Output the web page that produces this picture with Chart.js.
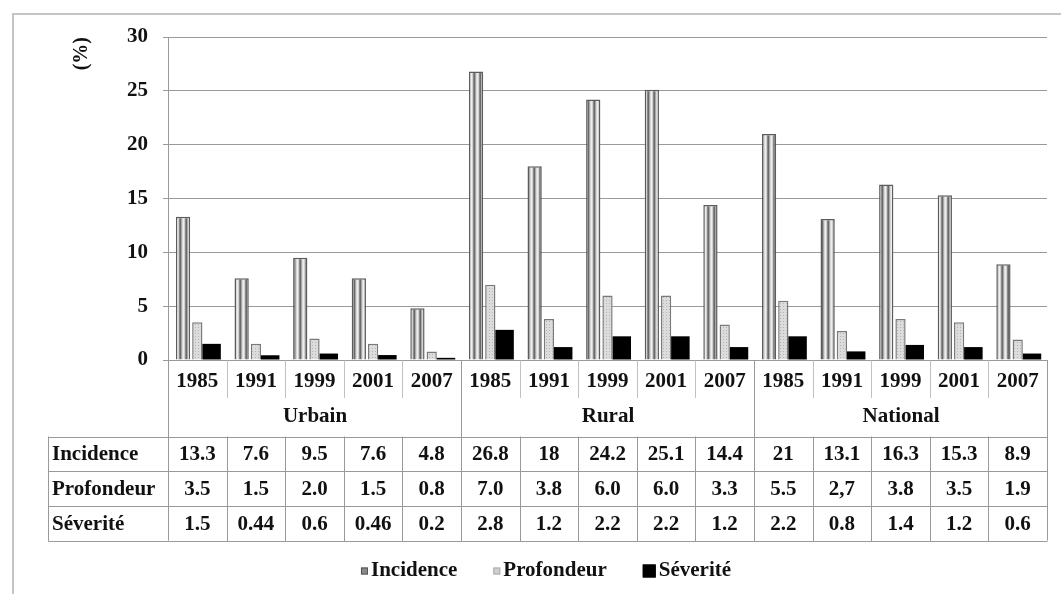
<!DOCTYPE html>
<html>
<head>
<meta charset="utf-8">
<script src="https://cdn.jsdelivr.net/npm/chart.js@4.4.1/dist/chart.umd.min.js"></script>
<style>
  html, body { margin: 0; padding: 0; background: #fff; overflow: hidden; }
  #frame { position: absolute; left: 12px; top: 13px; width: 1100px; height: 700px; border: 2px solid #c4c4c4; box-sizing: border-box; }
  #wrap { position: absolute; left: 0; top: 0; width: 1061px; height: 594px; }
</style>
</head>
<body>
<div id="frame"></div>
<div id="wrap"><canvas id="c" width="1061" height="594"></canvas></div>
<script>
// ---- data ----
const years = ["1985", "1991", "1999", "2001", "2007", "1985", "1991", "1999", "2001", "2007", "1985", "1991", "1999", "2001", "2007"];
const groups = ["Urbain", "Rural", "National"];
const seriesNames = ["Incidence", "Profondeur", "Séverité"];
const incidenceText = ["13.3", "7.6", "9.5", "7.6", "4.8", "26.8", "18", "24.2", "25.1", "14.4", "21", "13.1", "16.3", "15.3", "8.9"];
const profondeurText = ["3.5", "1.5", "2.0", "1.5", "0.8", "7.0", "3.8", "6.0", "6.0", "3.3", "5.5", "2,7", "3.8", "3.5", "1.9"];
const severiteText = ["1.5", "0.44", "0.6", "0.46", "0.2", "2.8", "1.2", "2.2", "2.2", "1.2", "2.2", "0.8", "1.4", "1.2", "0.6"];
const yTicks = [0, 5, 10, 15, 20, 25, 30];

const toNum = s => parseFloat(s.replace(',', '.'));
const incidence = incidenceText.map(toNum);
const profondeur = profondeurText.map(toNum);
const severite = severiteText.map(toNum);
const tableRows = [incidenceText, profondeurText, severiteText];

const FONT = "'Liberation Serif', 'Times New Roman', serif";
const FS = 21;
const LINE = '#9a9a9a';

function stripePattern(cols) {
  const c = document.createElement('canvas');
  c.width = cols.length; c.height = 4;
  const g = c.getContext('2d');
  cols.forEach((col, i) => { g.fillStyle = col; g.fillRect(i, 0, 1, 4); });
  return g.createPattern(c, 'repeat');
}
function dotPattern() {
  const c = document.createElement('canvas');
  c.width = 3; c.height = 3;
  const g = c.getContext('2d');
  g.fillStyle = '#dcdcdc'; g.fillRect(0, 0, 3, 3);
  g.fillStyle = '#b4b4b4'; g.fillRect(0, 0, 1, 1);
  return g.createPattern(c, 'repeat');
}
const incFill = stripePattern(['#6a6a6a', '#a8a8a8', '#d8d8d8', '#eeeeee', '#d0d0d0', '#8a8a8a']);
const profFill = dotPattern();

const tablePlugin = {
  id: 'tablePlugin',
  afterDraw(chart) {
    const ctx = chart.ctx;
    const xs = chart.scales.x;
    const n = years.length;
    const cw = (xs.right - xs.left) / n;
    const bx = k => Math.round(xs.left + k * cw) + 0.5;
    const axisY = Math.round(xs.top) + 0.5;
    const tTop = 436.5, rowH = 34.7;
    const tBot = tTop + rowH * 3;
    const tLeft = 48.5;
    ctx.save();
    ctx.lineWidth = 1;
    ctx.strokeStyle = '#c2c2c2';
    for (let k = 1; k < n; k++) {
      if (k % 5 === 0) continue;
      ctx.beginPath(); ctx.moveTo(bx(k), axisY); ctx.lineTo(bx(k), 398); ctx.stroke();
    }
    ctx.strokeStyle = LINE;
    for (let k = 0; k <= n; k += 5) {
      ctx.beginPath(); ctx.moveTo(bx(k), axisY); ctx.lineTo(bx(k), tBot); ctx.stroke();
    }
    for (let r = 0; r <= 3; r++) {
      const y = Math.round(tTop + r * rowH) + 0.5;
      ctx.beginPath(); ctx.moveTo(tLeft, y); ctx.lineTo(bx(n), y); ctx.stroke();
    }
    ctx.beginPath(); ctx.moveTo(tLeft, tTop); ctx.lineTo(tLeft, Math.round(tBot) + 0.5); ctx.stroke();
    for (let k = 1; k < n; k++) {
      ctx.beginPath(); ctx.moveTo(bx(k), tTop); ctx.lineTo(bx(k), Math.round(tBot) + 0.5); ctx.stroke();
    }
    ctx.fillStyle = '#111';
    ctx.font = "bold " + FS + "px " + FONT;
    ctx.textAlign = 'center';
    ctx.textBaseline = 'middle';
    groups.forEach((g, i) => {
      ctx.fillText(g, (bx(i * 5) + bx(i * 5 + 5)) / 2, 417);
    });
    tableRows.forEach((row, r) => {
      const cy = tTop + rowH * (r + 0.5) + 1;
      ctx.textAlign = 'left';
      ctx.fillText(seriesNames[r], 52, cy);
      ctx.textAlign = 'center';
      row.forEach((v, k) => ctx.fillText(v, xs.left + (k + 0.5) * cw, cy));
    });
    // legend
    const ly = 571;
    const gap = 36;
    const items = chart.data.datasets.map((d, i) => ({
      label: d.label,
      box: i === 2 ? 13 : 7,
      fill: i === 0 ? '#8a8a8a' : (i === 1 ? '#cfcfcf' : '#000'),
      stroke: i === 0 ? '#555' : (i === 1 ? '#aaa' : '#000'),
      tw: ctx.measureText(d.label).width
    }));
    const total = items.reduce((s, it) => s + it.box + 3 + it.tw, 0) + gap * (items.length - 1);
    let lx = 546 - total / 2;
    ctx.textAlign = 'left';
    items.forEach(it => {
      ctx.fillStyle = it.fill;
      ctx.fillRect(lx, ly - it.box / 2, it.box, it.box);
      ctx.strokeStyle = it.stroke;
      ctx.strokeRect(lx + 0.5, ly - it.box / 2 + 0.5, it.box - 1, it.box - 1);
      lx += it.box + 3;
      ctx.fillStyle = '#111';
      ctx.fillText(it.label, lx, ly);
      lx += it.tw + gap;
    });
    ctx.restore();
  }
};

new Chart(document.getElementById('c'), {
  type: 'bar',
  data: {
    labels: years,
    datasets: [
      { label: seriesNames[0], data: incidence, backgroundColor: incFill, borderColor: '#5c5c5c', borderWidth: 1.5, barPercentage: 1.0, borderSkipped: 'bottom' },
      { label: seriesNames[1], data: profondeur, backgroundColor: profFill, borderColor: '#7a7a7a', borderWidth: 1.5, barPercentage: 0.72, borderSkipped: 'bottom' },
      { label: seriesNames[2], data: severite, backgroundColor: '#000000', borderWidth: 0, barPercentage: 1.3 }
    ]
  },
  options: {
    responsive: false,
    animation: false,
    layout: { padding: { left: 13, top: 37, right: 14, bottom: 0 } },
    datasets: { bar: { categoryPercentage: 0.73 } },
    plugins: { legend: { display: false }, tooltip: { enabled: false } },
    scales: {
      x: {
        grid: { display: false, drawTicks: false },
        border: { display: true, color: LINE, width: 1 },
        ticks: { color: '#111', font: { family: FONT, size: FS, weight: 'bold' }, padding: 9, maxRotation: 0, autoSkip: false },
        afterFit(s) { s.height = 594 - 360; }
      },
      y: {
        min: 0, max: 30,
        afterBuildTicks(s) { s.ticks = yTicks.map(v => ({ value: v })); },
        grid: { color: LINE, lineWidth: 1, tickLength: 5 },
        border: { display: true, color: LINE, width: 1 },
        ticks: { color: '#111', font: { family: FONT, size: FS, weight: 'bold' }, padding: 15 },
        title: { display: true, text: '(%)', align: 'end', color: '#111', font: { family: FONT, size: 20, weight: 'bold' }, padding: { top: 57, bottom: 0 } },
        afterFit(s) { s.width = 168 - 13; }
      }
    }
  },
  plugins: [tablePlugin]
});
</script>
</body>
</html>
